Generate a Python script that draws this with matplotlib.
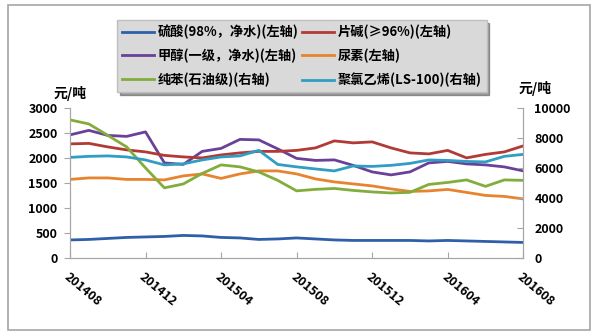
import matplotlib
matplotlib.use("Agg")
import matplotlib.pyplot as plt
from matplotlib.patches import Rectangle

plt.rcParams['font.family'] = ['Noto Sans CJK SC', 'DejaVu Sans']

# monthly, 201408 .. 201608
months = ['201408', '201409', '201410', '201411', '201412', '201501', '201502',
          '201503', '201504', '201505', '201506', '201507', '201508', '201509',
          '201510', '201511', '201512', '201601', '201602', '201603', '201604',
          '201605', '201606', '201607', '201608']
tick_labels = ['201408', '201412', '201504', '201508', '201512', '201604', '201608']

# left axis series
sulfuric = [360, 370, 390, 410, 420, 430, 450, 440, 410, 400, 370, 380, 400,
            380, 360, 350, 350, 350, 350, 340, 350, 340, 330, 320, 310]
caustic = [2280, 2290, 2220, 2160, 2120, 2050, 2020, 2000, 2060, 2100, 2130, 2130, 2150,
           2200, 2340, 2300, 2320, 2200, 2100, 2080, 2150, 2000, 2070, 2120, 2240]
methanol = [2460, 2550, 2450, 2430, 2520, 1900, 1870, 2130, 2190, 2370, 2360, 2180, 1990,
            1950, 1960, 1850, 1720, 1660, 1720, 1900, 1930, 1880, 1860, 1820, 1740]
urea = [1570, 1600, 1600, 1570, 1570, 1560, 1640, 1680, 1590, 1680, 1740, 1740, 1680,
        1580, 1520, 1480, 1440, 1380, 1330, 1340, 1370, 1310, 1250, 1230, 1180]
# right axis series
benzene = [9200, 8930, 8170, 7400, 6000, 4670, 4930, 5630, 6200, 6070, 5730, 5170, 4470,
           4570, 4630, 4500, 4400, 4330, 4370, 4900, 5030, 5200, 4770, 5200, 5170]
pvc = [6700, 6770, 6800, 6730, 6530, 6200, 6270, 6530, 6730, 6800, 7170, 6230, 6070,
       5930, 5800, 6130, 6100, 6170, 6300, 6530, 6500, 6430, 6400, 6770, 6900]

labels = ['硫酸(98%，净水)(左轴)', '甲醇(一级，净水)(左轴)', '纯苯(石油级)(右轴)',
          '片碱(≥96%)(左轴)', '尿素(左轴)', '聚氯乙烯(LS-100)(右轴)']
colors = ['#2f5fa8', '#6a4199', '#82ad3c', '#b23a36', '#e8832f', '#2f9ec2']

x = list(range(len(months)))

fig = plt.figure(figsize=(5.98, 3.35), dpi=100)
ax = fig.add_axes([0.117, 0.230, 0.758, 0.448])
ax2 = ax.twinx()

lw = 2.0
l1, = ax.plot(x, sulfuric, color=colors[0], lw=lw)
l2, = ax.plot(x, methanol, color=colors[1], lw=lw)
l4, = ax.plot(x, caustic, color=colors[3], lw=lw)
l5, = ax.plot(x, urea, color=colors[4], lw=lw)
l3, = ax2.plot(x, benzene, color=colors[2], lw=lw)
l6, = ax2.plot(x, pvc, color=colors[5], lw=lw)

ax.set_xlim(0, len(months) - 1)
ax.set_ylim(0, 3000)
ax.set_yticks(range(0, 3001, 500))
ax2.set_ylim(0, 10000)
ax2.set_yticks(range(0, 10001, 2000))
ax.set_xticks([months.index(t) for t in tick_labels])
ax.set_xticklabels(tick_labels, rotation=-40, ha='left', rotation_mode='anchor')

for a in (ax, ax2):
    a.spines['top'].set_visible(False)
    for s in ('left', 'right', 'bottom'):
        a.spines[s].set_color('#a6a6a6')
    a.tick_params(colors='#a6a6a6', labelcolor='black', labelsize=9, length=4)
ax.tick_params(axis='x', direction='in', pad=9)
ax.tick_params(axis='y', pad=5)
ax2.tick_params(axis='y', direction='in', pad=8)
for t in ax.get_xticklabels() + ax.get_yticklabels() + ax2.get_yticklabels():
    t.set_fontweight('bold')

fig.text(0.118, 0.722, '元/吨', fontsize=10, fontweight='bold', ha='center', va='center')
fig.text(0.895, 0.737, '元/吨', fontsize=10, fontweight='bold', ha='center', va='center')

leg = fig.legend([l1, l2, l3, l4, l5, l6], labels, ncol=2, loc='upper left',
                 bbox_to_anchor=(0.185, 0.96), frameon=True, fancybox=False,
                 shadow=True, fontsize=9.5, handlelength=2.4, labelspacing=0.72,
                 columnspacing=0.3, handletextpad=0.3, borderpad=0.35)
leg.get_frame().set_facecolor('#d9d9d9')
leg.get_frame().set_edgecolor('#bfbfbf')
for t in leg.get_texts():
    t.set_fontweight('bold')

fig.patches.append(Rectangle((0.013, 0.015), 0.974, 0.97, transform=fig.transFigure,
                             fill=False, edgecolor='#a6a6a6', lw=1.2))

fig.savefig('out.png', dpi=100)
